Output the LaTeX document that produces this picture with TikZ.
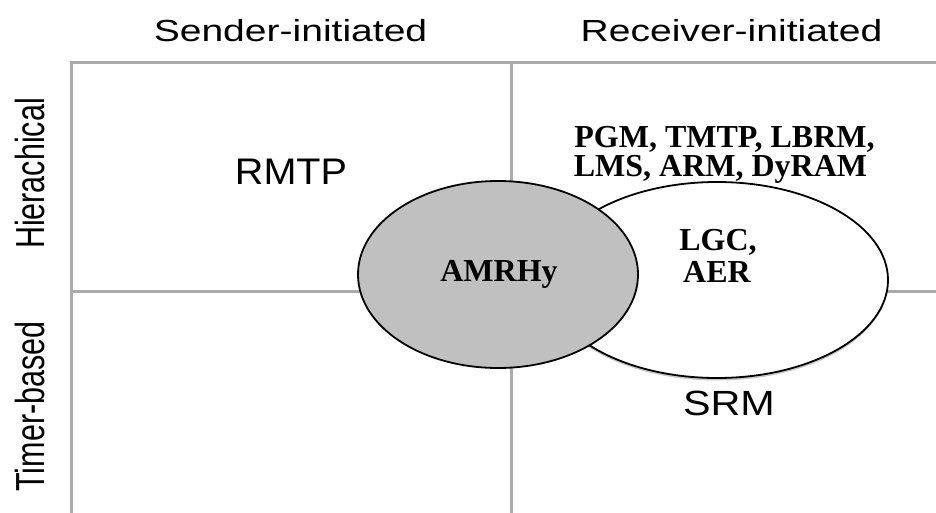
\documentclass[tikz,border=0pt]{standalone}
\usepackage{fontspec}
\usepackage{graphicx}
\setmainfont{Liberation Serif}
\newfontfamily\arialf{Liberation Sans}
\usetikzlibrary{shapes.geometric}
\definecolor{gridgray}{HTML}{ABABAB}
\definecolor{fillgray}{HTML}{C0C0C0}
\begin{document}
\begin{tikzpicture}[x=1pt,y=-1pt,
  gridline/.style={draw=gridgray, line width=3pt},
  axislabel/.style={font=\arialf\fontsize{30.5}{34}\selectfont, inner sep=0pt, anchor=base},
  celllabel/.style={font=\arialf, inner sep=0pt, anchor=base},
  cellbold/.style={font=\bfseries\fontsize{32}{29}\selectfont, inner sep=0pt, anchor=base},
  blob/.style={ellipse, draw=black, line width=1.8pt, inner sep=0pt}]
\useasboundingbox (0,0) rectangle (936,513);
% grid
\coordinate (tl) at (69.5,62.5);
\coordinate (tr) at (936,62.5);
\coordinate (lt) at (71,61);
\coordinate (lb) at (71,513);
\coordinate (mt) at (511,61);
\coordinate (mb) at (511,513);
\coordinate (hl) at (71,291);
\coordinate (hr) at (936,291);
\draw[gridline] (tl) -- (tr);
\draw[gridline] (lt) -- (lb);
\draw[gridline] (mt) -- (mb);
\draw[gridline] (hl) -- (hr);
% headers
\node[axislabel] (sender) at (290.5,42) {\scalebox{1.28}[1]{Sender-initiated}};
\node[axislabel] (receiver) at (731.5,42) {\scalebox{1.28}[1]{Receiver-initiated}};
\node[axislabel, rotate=90] (hier) at (44.5,173.5) {\scalebox{1}[1.33]{Hierachical}};
\node[axislabel, rotate=90] (timer) at (44.5,406.5) {\scalebox{1}[1.33]{Timer-based}};
% ellipses
\node[ellipse, fill=black!22, minimum width=342pt, minimum height=196pt, inner sep=0pt] (shadow) at (717,282.5) {};
\node[blob, fill=white, minimum width=342pt, minimum height=196pt] (recv) at (717,280) {};
\node[blob, fill=fillgray, minimum width=280pt, minimum height=187pt] (amrhy) at (498,274.5) {};
% cell texts
\node[celllabel, font=\arialf\fontsize{37}{40}\selectfont] (rmtp) at (291,185) {\scalebox{1.07}[1]{RMTP}};
\node[celllabel, font=\arialf\fontsize{35}{38}\selectfont] (srm) at (729,415) {\scalebox{1.18}[1]{SRM}};
\node[cellbold] (pgm1) at (724.5,148) {PGM, TMTP, LBRM,};
\node[cellbold] (pgm2) at (720.5,177) {LMS, ARM, DyRAM};
\node[cellbold] (amrhytext) at (499,281) {AMRHy};
\node[cellbold] (lgc) at (718,250) {LGC,};
\node[cellbold] (aer) at (717,282) {AER};
\end{tikzpicture}
\end{document}
